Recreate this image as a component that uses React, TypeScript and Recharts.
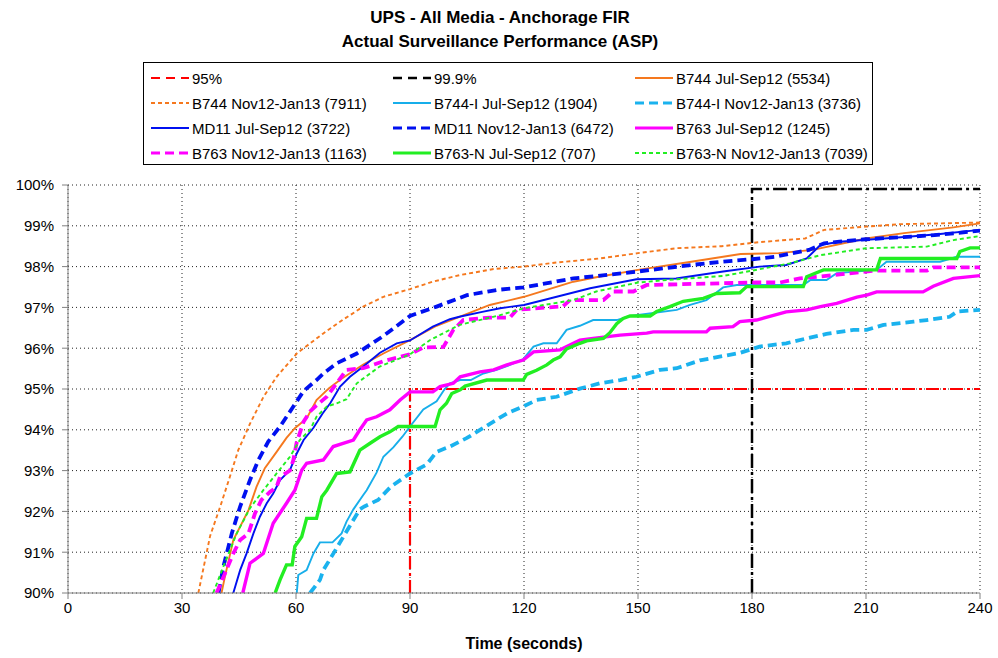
import React from 'react'
import { LineChart, Line, XAxis, YAxis, CartesianGrid } from 'recharts'

// time (s) / cumulative percentage pairs
const limit95: [number, number][] = [[90, 90], [90, 95], [240, 95]]
const limit999: [number, number][] = [[180, 90], [180, 99.9], [240, 99.9]]

const b744Jul: [number, number][] = [
  [40.4, 90], [41.3, 90.4], [43.5, 91.3], [45.7, 91.7], [47.5, 92.03], [49.6, 92.6], [51.8, 93.06], [54.9, 93.46],
  [57.5, 93.8], [59.7, 94.04], [62.8, 94.28], [65.4, 94.73], [68.7, 95.02], [72, 95.25], [77.7, 95.6], [83, 95.87],
  [90, 96.2], [97, 96.55], [103, 96.77], [111, 97.06], [120, 97.26], [133, 97.63], [139, 97.74], [150, 97.92],
  [164, 98.12], [177, 98.31], [187, 98.33], [196, 98.41], [210, 98.69], [220, 98.82], [233, 98.96], [240, 99.06],
]
const b744Nov: [number, number][] = [
  [34.3, 90], [37.4, 91.4], [40, 92.1], [42.6, 92.85], [44.8, 93.5], [47.9, 94.15], [51.4, 94.8], [54.9, 95.3],
  [60.2, 95.87], [67, 96.35], [72.4, 96.7], [77.7, 97.02], [83, 97.26], [90, 97.45], [96, 97.63], [103, 97.79],
  [112, 97.94], [120, 98.0], [128.6, 98.1], [140, 98.2], [150, 98.33], [160, 98.45], [172, 98.5], [182, 98.6],
  [194, 98.69], [199, 98.9], [210, 98.98], [219, 99.04], [230, 99.06], [240, 99.08],
]
const b744iJul: [number, number][] = [
  [60.2, 90], [60.6, 90.44], [62.8, 90.56], [64.6, 90.97], [66.3, 91.24], [69.6, 91.24], [72, 91.46], [73.3, 91.75],
  [75.1, 92.05], [77.7, 92.4], [78.6, 92.52], [81.2, 92.95], [83, 93.34], [85.6, 93.57], [88, 93.83], [90, 94.08],
  [93.5, 94.5], [97, 94.7], [99, 94.98], [100.5, 95.14], [103.2, 95.22], [106, 95.22], [109.3, 95.38], [112.8, 95.47],
  [116.3, 95.59], [119.8, 95.73], [122.5, 96.04], [125.1, 96.12], [128.6, 96.12], [131.2, 96.45], [134.7, 96.55],
  [138.2, 96.69], [144.4, 96.69], [148, 96.79], [160.2, 96.94], [163.7, 97.06], [168, 97.18], [172.4, 97.49],
  [176, 97.55], [193.5, 97.55], [195.4, 97.67], [199.6, 97.67], [202.3, 97.84], [212.8, 97.92], [215.4, 98.12],
  [229.5, 98.12], [233.9, 98.24], [240, 98.24],
]
const b744iNov: [number, number][] = [
  [63.7, 90], [66.3, 90.32], [67.2, 90.56], [70.7, 91.1], [74.2, 91.65], [76.8, 92.05], [78, 92.12], [81.6, 92.28],
  [85, 92.61], [90, 92.93], [94.4, 93.15], [97, 93.46], [100.5, 93.59], [105, 93.8], [110.2, 94.1], [115.5, 94.4],
  [119.8, 94.57], [123.3, 94.73], [128.6, 94.81], [134.7, 95.01], [140, 95.14], [145.3, 95.22], [149.6, 95.3],
  [155.8, 95.47], [160.2, 95.51], [166.3, 95.7], [177, 95.89], [182, 96.04], [189, 96.12], [194.4, 96.24],
  [199.6, 96.35], [206.7, 96.45], [210.2, 96.45], [214.6, 96.57], [222.5, 96.65], [226, 96.69], [232, 96.77],
  [234, 96.9], [240, 96.94],
]
const md11Jul: [number, number][] = [
  [43.5, 90], [45.3, 90.56], [47, 90.97], [48.8, 91.46], [50.5, 91.87], [52.3, 92.2], [54, 92.44], [55.8, 92.77],
  [58.4, 93.01], [60.2, 93.42], [62, 93.75], [64.6, 94.05], [67, 94.4], [69, 94.65], [71.6, 95.06], [74.2, 95.3],
  [77.7, 95.55], [82.1, 95.89], [86.5, 96.12], [90, 96.19], [96, 96.53], [100.5, 96.71], [103, 96.77], [109, 96.89],
  [113.7, 96.98], [120, 97.06], [128.6, 97.26], [137.4, 97.47], [149.6, 97.69], [160, 97.71], [172.4, 97.88],
  [182, 98.0], [189, 98.04], [194.4, 98.2], [198, 98.53], [203, 98.61], [212, 98.67], [221, 98.73], [229.5, 98.8],
  [240, 98.9],
]
const md11Nov: [number, number][] = [
  [39.6, 90], [40.9, 90.65], [43.1, 91.46], [45.3, 92.12], [47.9, 92.77], [50.1, 93.26], [52.7, 93.71], [55.8, 94.08],
  [59.3, 94.57], [62, 94.95], [65.4, 95.22], [67.2, 95.38], [70.7, 95.63], [76, 95.87], [83, 96.3], [90, 96.79],
  [97, 97.02], [105, 97.3], [113, 97.43], [120, 97.49], [133, 97.71], [150, 97.88], [164, 98.04], [172, 98.12],
  [180, 98.18], [186, 98.24], [195, 98.41], [199, 98.57], [203, 98.61], [210, 98.67], [219, 98.72], [228, 98.77],
  [240, 98.88],
]
const b763Jul: [number, number][] = [
  [46, 90], [47.9, 90.73], [51.4, 90.97], [54, 91.71], [57.5, 92.2], [59.7, 92.52], [61.5, 93.01], [62.8, 93.18],
  [67.2, 93.26], [69.8, 93.59], [72.4, 93.67], [75.1, 93.75], [76.8, 94.0], [78.6, 94.24], [81.2, 94.32], [84.7, 94.49],
  [87.4, 94.73], [90, 94.93], [96, 94.93], [97.9, 95.06], [101.4, 95.14], [103.2, 95.3], [108.4, 95.42], [112, 95.47],
  [115.5, 95.59], [119.8, 95.71], [122.5, 95.91], [129.5, 95.96], [133, 96.12], [134.7, 96.2], [138.2, 96.24],
  [145.3, 96.32], [152.3, 96.37], [154, 96.4], [168, 96.4], [169, 96.49], [175, 96.53], [176.8, 96.65], [181.2, 96.69],
  [189, 96.89], [194.4, 96.94], [198, 97.02], [202.3, 97.1], [207.6, 97.25], [210.2, 97.3], [212.8, 97.38],
  [225, 97.38], [227.7, 97.52], [233, 97.71], [240, 97.78],
]
const b763Nov: [number, number][] = [
  [39.1, 90], [41.3, 90.48], [43.5, 90.97], [45.3, 91.3], [47.5, 91.46], [49.2, 91.95], [50.9, 92.28], [53.2, 92.48],
  [54.9, 92.6], [55.8, 92.85], [58.4, 93.0], [59.3, 93.26], [60.2, 93.7], [62, 94.2], [63.7, 94.45], [65.4, 94.6],
  [68.1, 94.81], [70.7, 95.14], [73.3, 95.47], [77.7, 95.51], [83, 95.68], [90, 95.85], [93.5, 96.02], [98.8, 96.03],
  [101.4, 96.45], [104, 96.69], [111, 96.75], [116.3, 96.75], [118.1, 96.94], [130.3, 97.03], [132.1, 97.18],
  [140.9, 97.18], [143.5, 97.39], [148.8, 97.39], [152.3, 97.55], [181, 97.61], [187.4, 97.61], [192.6, 97.71],
  [201.4, 97.79], [212, 97.9], [226, 97.9], [227.7, 97.98], [240, 97.98],
]
const b763nJul: [number, number][] = [
  [54.5, 90], [55.8, 90.32], [57.5, 90.69], [59, 90.69], [59.7, 91.14], [61.5, 91.38], [62.8, 91.83], [65.4, 91.83],
  [66.8, 92.36], [68.1, 92.52], [70.7, 92.93], [74.2, 92.97], [76.8, 93.5], [79.5, 93.67], [82.1, 93.83], [84.7, 93.95],
  [86.9, 94.08], [96.6, 94.08], [97.9, 94.49], [99.6, 94.65], [101, 94.89], [103.2, 94.98], [104.5, 95.07],
  [110.2, 95.22], [119.8, 95.22], [120.7, 95.36], [123.3, 95.46], [126, 95.59], [127.7, 95.71], [129.5, 95.79],
  [131.2, 95.98], [134.7, 96.12], [136.5, 96.18], [140.9, 96.24], [142.6, 96.38], [144.4, 96.6], [146.1, 96.73],
  [147.9, 96.79], [153.2, 96.79], [154.9, 96.9], [158.4, 97.02], [161.9, 97.15], [167.2, 97.22], [170.7, 97.34],
  [176.8, 97.36], [178.6, 97.51], [193.5, 97.51], [194.4, 97.75], [198.8, 97.92], [212.8, 97.92], [213.8, 98.2],
  [233.9, 98.2], [234.7, 98.37], [237.4, 98.46], [240, 98.46],
]
const b763nNov: [number, number][] = [
  [38.2, 90], [40.9, 90.65], [44.4, 91.46], [47.9, 92.08], [51.4, 92.52], [54.9, 92.93], [58.4, 93.34], [61, 93.75],
  [63.7, 94.0], [65.4, 94.32], [68.1, 94.57], [70.7, 94.65], [73.3, 94.75], [76, 95.14], [82, 95.55], [90, 95.85],
  [95.3, 96.2], [100.5, 96.45], [103, 96.57], [113.7, 96.81], [120, 96.98], [133, 97.18], [139, 97.39], [150, 97.61],
  [160, 97.69], [172.4, 97.77], [180, 97.9], [190, 98.08], [198, 98.28], [210, 98.45], [226, 98.49], [233, 98.65],
  [240, 98.75],
]

const xTicks = [0, 30, 60, 90, 120, 150, 180, 210, 240]
const yTicks = [90, 91, 92, 93, 94, 95, 96, 97, 98, 99, 100]

const series = [
  { name: '95%', data: limit95, color: '#ff0000', width: 2.2, dash: '13 4 3 4', key: '9 6' },
  { name: '99.9%', data: limit999, color: '#000000', width: 2.5, dash: '14 4 3 4', key: '9 6' },
  { name: 'B744 Jul-Sep12 (5534)', data: b744Jul, color: '#f5781e', width: 1.9 },
  { name: 'B744 Nov12-Jan13 (7911)', data: b744Nov, color: '#f5781e', width: 1.9, dash: '4 3' },
  { name: 'B744-I Jul-Sep12 (1904)', data: b744iJul, color: '#17aeea', width: 1.9 },
  { name: 'B744-I Nov12-Jan13 (3736)', data: b744iNov, color: '#1ab2ee', width: 3.8, dash: '9 5' },
  { name: 'MD11 Jul-Sep12 (3722)', data: md11Jul, color: '#0010f0', width: 1.9 },
  { name: 'MD11 Nov12-Jan13 (6472)', data: md11Nov, color: '#0010f0', width: 3.8, dash: '9 5' },
  { name: 'B763 Jul-Sep12 (1245)', data: b763Jul, color: '#ff00ff', width: 3.4 },
  { name: 'B763 Nov12-Jan13 (1163)', data: b763Nov, color: '#ff00ff', width: 3.8, dash: '9 5' },
  { name: 'B763-N Jul-Sep12 (707)', data: b763nJul, color: '#22ee22', width: 3.4 },
  { name: 'B763-N Nov12-Jan13 (7039)', data: b763nNov, color: '#22ee22', width: 1.9, dash: '4 3' },
]

const toRows = (pts: [number, number][]) => pts.map(([t, v]) => ({ t, v }))

const font = '"Liberation Sans", Arial, sans-serif'

function LegendBox() {
  return (
    <div
      style={{
        position: 'absolute', left: 143, top: 62, width: 730, height: 103, border: '1px solid #000',
        boxSizing: 'border-box', background: '#fff', fontFamily: font, fontSize: 15,
      }}
    >
      {series.map((s, i) => (
        <div
          key={s.name}
          style={{
            position: 'absolute', left: 6 + (i % 3) * 242, top: 3 + Math.floor(i / 3) * 25, height: 24,
            display: 'flex', alignItems: 'center', whiteSpace: 'nowrap',
          }}
        >
          <svg width={40} height={10} style={{ marginRight: 2 }}>
            <line x1={1} y1={5} x2={39} y2={5} stroke={s.color} strokeWidth={Math.min(s.width, 3)} strokeDasharray={s.key ?? s.dash} />
          </svg>
          <span>{s.name}</span>
        </div>
      ))}
    </div>
  )
}

export default function App() {
  return (
    <div style={{ position: 'absolute', left: 0, top: 0, width: 998, height: 658, background: '#fff', fontFamily: font }}>
      <div style={{ position: 'absolute', left: 0, top: 6, width: 1000, textAlign: 'center', fontWeight: 'bold', fontSize: 17, lineHeight: '24px' }}>
        <div>UPS - All Media - Anchorage FIR</div>
        <div>Actual Surveillance Performance (ASP)</div>
      </div>
      <LineChart width={998} height={658} margin={{ top: 185, right: 18, left: 8, bottom: 35 }}>
        <CartesianGrid stroke="#222" strokeDasharray="1 3" />
        <XAxis
          type="number"
          dataKey="t"
          domain={[0, 240]}
          ticks={xTicks}
          allowDataOverflow
          height={30}
          stroke="#808080"
          tickSize={6}
          tickMargin={3}
          tick={{ fill: '#000', fontSize: 15, fontFamily: font }}
          label={{ value: 'Time (seconds)', position: 'bottom', offset: 15, fill: '#000', fontSize: 16, fontWeight: 'bold', fontFamily: font }}
        />
        <YAxis
          type="number"
          domain={[90, 100]}
          ticks={yTicks}
          allowDataOverflow
          width={60}
          stroke="#808080"
          tickSize={6}
          tickMargin={8}
          tickFormatter={(v: number) => `${v}%`}
          tick={{ fill: '#000', fontSize: 15, fontFamily: font }}
        />
        {series.map((s) => (
          <Line
            key={s.name}
            data={toRows(s.data)}
            dataKey="v"
            name={s.name}
            type="linear"
            stroke={s.color}
            strokeWidth={s.width}
            strokeDasharray={s.dash}
            dot={false}
            activeDot={false}
            isAnimationActive={false}
          />
        ))}
      </LineChart>
      <LegendBox />
    </div>
  )
}
